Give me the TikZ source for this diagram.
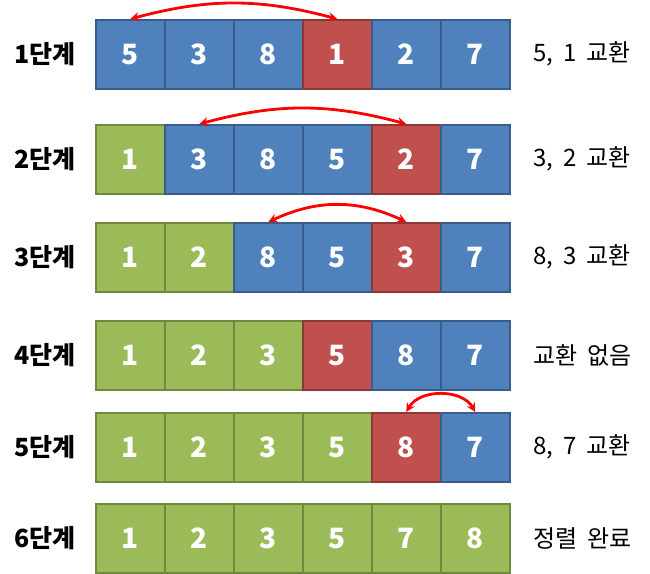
\documentclass[tikz,border=0pt]{standalone}
\usepackage{fontspec}
\setmainfont{Noto Sans CJK KR}
\usetikzlibrary{arrows.meta}
\definecolor{cblue}{HTML}{4F81BD}
\definecolor{cbluel}{HTML}{385D8A}
\definecolor{cred}{HTML}{C0504D}
\definecolor{credl}{HTML}{8C3836}
\definecolor{cgreen}{HTML}{9BBB59}
\definecolor{cgreenl}{HTML}{71893F}
\newcommand\notefont{\fontsize{24}{24}\selectfont\spaceskip=0.4em\relax}
\tikzset{
  cell/.style={minimum width=69pt,minimum height=69pt,inner sep=0pt,line width=1.6pt,
    text=white,font=\fontsize{28}{28}\selectfont\bfseries,anchor=north west},
  B/.style={cell,fill=cblue,draw=cbluel},
  R/.style={cell,fill=cred,draw=credl},
  G/.style={cell,fill=cgreen,draw=cgreenl},
  steplabel/.style={font=\fontsize{25}{25}\selectfont\bfseries,anchor=center},
  note/.style={font=\notefont,anchor=west},
  swap/.style={red,line width=2.8pt,{Stealth[length=9pt,width=9pt]}-{Stealth[length=9pt,width=9pt]}}
}
\begin{document}
\begin{tikzpicture}[x=1pt,y=-1pt]
\useasboundingbox (0,0) rectangle (650,573);
\foreach \rr/\tp/\va/\vb/\vc/\vd/\ve/\vf/\sa/\sb/\sc/\sd/\se/\sf in {
  1/19/5/3/8/1/2/7/B/B/B/R/B/B,
  2/124/1/3/8/5/2/7/G/B/B/B/R/B,
  3/222/1/2/8/5/3/7/G/G/B/B/R/B,
  4/320/1/2/3/5/8/7/G/G/G/R/B/B,
  5/412/1/2/3/5/8/7/G/G/G/G/R/B,
  6/503/1/2/3/5/7/8/G/G/G/G/G/G}{
  \node[\sa] (r\rr c1) at (95,\tp) {\va};
  \node[\sb] (r\rr c2) at (164,\tp) {\vb};
  \node[\sc] (r\rr c3) at (233,\tp) {\vc};
  \node[\sd] (r\rr c4) at (302,\tp) {\vd};
  \node[\se] (r\rr c5) at (371,\tp) {\ve};
  \node[\sf] (r\rr c6) at (440,\tp) {\vf};
  \node[steplabel] (lab\rr) at (45,\tp+35) {\rr{}단계};
}
\node[note] (n1) at (530,19+35) {5, 1 교환};
\node[note] (n2) at (530,124+35) {3, 2 교환};
\node[note] (n3) at (530,222+35) {8, 3 교환};
\node[note] (n4) at (530,320+35) {교환 없음};
\node[note] (n5) at (530,412+35) {8, 7 교환};
\node[note] (n6) at (530,503+35) {정렬 완료};
\draw[swap] (r1c1.north) to[bend left=15] (r1c4.north);
\draw[swap] (r2c2.north) to[bend left=15] (r2c5.north);
\draw[swap] (r3c3.north) to[bend left=25] (r3c5.north);
\draw[swap] (r5c5.north) to[bend left=60] (r5c6.north);
\end{tikzpicture}
\end{document}
